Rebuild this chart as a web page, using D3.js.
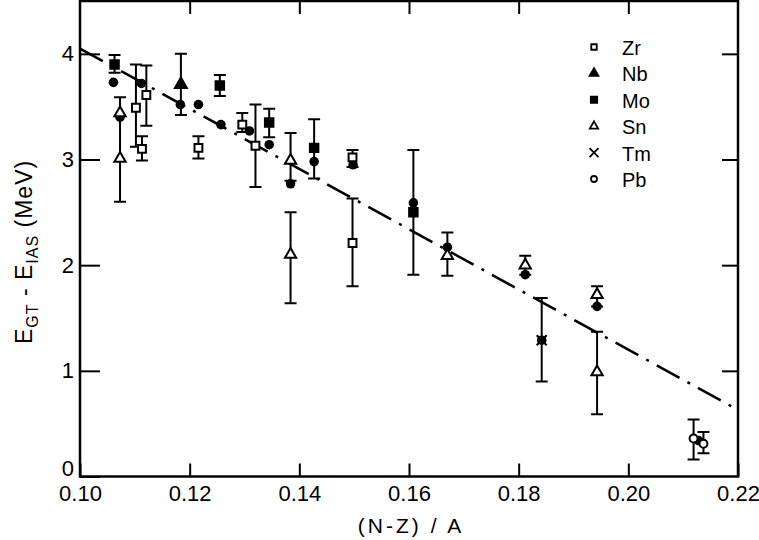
<!DOCTYPE html>
<html>
<head>
<meta charset="utf-8">
<script src="https://cdn.jsdelivr.net/npm/d3@7"></script>
<style>
  body { margin: 0; background: #fff; }
  text { font-family: 'Liberation Sans', Arial, sans-serif; fill: #000; }
</style>
</head>
<body>
<div id="chart"></div>
<script>
// measured points: x = (N-Z)/A, y = E_GT - E_IAS (MeV), lo/hi = error bar ends
const zr = [
  {x: 0.1102, y: 3.49, lo: 3.12, hi: 3.90},
  {x: 0.1113, y: 3.10, lo: 2.99, hi: 3.22},
  {x: 0.1121, y: 3.61, lo: 3.32, hi: 3.89},
  {x: 0.1216, y: 3.11, lo: 3.01, hi: 3.22},
  {x: 0.1296, y: 3.33, lo: 3.26, hi: 3.44},
  {x: 0.1320, y: 3.13, lo: 2.74, hi: 3.52},
  {x: 0.1497, y: 3.02, lo: 2.93, hi: 3.09},
  {x: 0.1497, y: 2.21, lo: 1.80, hi: 2.63}
]
const nb = [
  {x: 0.1184, y: 3.71, lo: 3.42, hi: 4.00}
]
const mo = [
  {x: 0.1063, y: 3.90, lo: 3.82, hi: 3.99},
  {x: 0.1255, y: 3.70, lo: 3.60, hi: 3.80},
  {x: 0.1345, y: 3.35, lo: 3.21, hi: 3.48},
  {x: 0.1427, y: 3.11, lo: 2.82, hi: 3.38},
  {x: 0.1608, y: 2.50, lo: 1.91, hi: 3.09}
]
const sn = [
  {x: 0.1073, y: 3.01, lo: 2.60, hi: 3.59},
  {x: 0.1073, y: 3.44},
  {x: 0.1384, y: 2.99, lo: 2.80, hi: 3.25},
  {x: 0.1384, y: 2.10, lo: 1.64, hi: 2.50},
  {x: 0.1670, y: 2.09, lo: 1.90, hi: 2.31},
  {x: 0.1812, y: 2.00, lo: 1.91, hi: 2.09},
  {x: 0.1943, y: 1.72, lo: 1.61, hi: 1.80},
  {x: 0.1943, y: 0.99, lo: 0.59, hi: 1.37}
]
const tm = [
  {x: 0.1842, y: 1.29, lo: 0.90, hi: 1.69}
]
const pb = [
  {x: 0.2119, y: 0.36, lo: 0.16, hi: 0.54},
  {x: 0.2137, y: 0.31, lo: 0.22, hi: 0.42}
]
// filled dots (no legend entry)
const calc = [
  {x: 0.1061, y: 3.73}, {x: 0.1073, y: 3.40}, {x: 0.1112, y: 3.72},
  {x: 0.1183, y: 3.52}, {x: 0.1216, y: 3.52}, {x: 0.1257, y: 3.33},
  {x: 0.1309, y: 3.27}, {x: 0.1345, y: 3.14}, {x: 0.1384, y: 2.77},
  {x: 0.1427, y: 2.98}, {x: 0.1498, y: 2.95}, {x: 0.1608, y: 2.59},
  {x: 0.1670, y: 2.17}, {x: 0.1812, y: 1.91}, {x: 0.1842, y: 1.29},
  {x: 0.1943, y: 1.61}, {x: 0.2128, y: 0.34}
]
// dash-dot fit line end points
const fitLine = [{x: 0.10, y: 4.05}, {x: 0.22, y: 0.63}]

const xTicks = [0.10, 0.12, 0.14, 0.16, 0.18, 0.20, 0.22]
const yTicks = [0, 1, 2, 3, 4]
const legendItems = ['Zr', 'Nb', 'Mo', 'Sn', 'Tm', 'Pb']

const width = 759,
  height = 540

const xScale = d3.scaleLinear()
  .domain([0.10, 0.22])
  .range([80, 738])
const yScale = d3.scaleLinear()
  .domain([0, 4.5])
  .range([476.5, 1])

const svg = d3.select('#chart').append('svg')
  .attr('width', width)
  .attr('height', height)

// frame
svg.append('rect')
  .attr('x', xScale(0.10))
  .attr('y', yScale(4.5))
  .attr('width', xScale(0.22) - xScale(0.10))
  .attr('height', yScale(0) - yScale(4.5))
  .attr('fill', 'none')
  .attr('stroke', '#000')
  .attr('stroke-width', 2.5)

const styleAxis = g => {
  g.select('.domain').remove()
  g.selectAll('.tick line').attr('stroke', '#000').attr('stroke-width', 2)
  g.selectAll('.tick text').style('font-size', '22px').attr('fill', '#000')
}

svg.append('g')
  .attr('transform', `translate(0, ${yScale(0)})`)
  .call(d3.axisBottom(xScale).tickValues(xTicks).tickFormat(d3.format('.2f'))
    .tickSizeInner(-13).tickSizeOuter(0).tickPadding(9))
  .call(styleAxis)
svg.append('g')
  .attr('transform', `translate(0, ${yScale(4.5)})`)
  .call(d3.axisTop(xScale).tickValues(xTicks.slice(1, -1)).tickFormat('')
    .tickSizeInner(-13).tickSizeOuter(0))
  .call(styleAxis)
svg.append('g')
  .attr('transform', `translate(${xScale(0.10)}, 0)`)
  .call(d3.axisLeft(yScale).tickValues(yTicks).tickFormat(d3.format('d'))
    .tickSizeInner(-20).tickSizeOuter(0).tickPadding(6))
  .call(styleAxis)
  .call(g => g.selectAll('.tick text').filter(d => d === 0).attr('y', -8))
svg.append('g')
  .attr('transform', `translate(${xScale(0.22)}, 0)`)
  .call(d3.axisRight(yScale).tickValues(yTicks.slice(1)).tickFormat('')
    .tickSizeInner(-16).tickSizeOuter(0))
  .call(styleAxis)

// axis titles
svg.append('text')
  .attr('x', 411)
  .attr('y', 533)
  .attr('text-anchor', 'middle')
  .style('font-size', '21px')
  .style('letter-spacing', '3px')
  .text('(N-Z) / A')

const yTitle = svg.append('text')
  .attr('transform', 'translate(32, 344) rotate(-90)')
  .style('font-size', '23px')
  .style('letter-spacing', '1px')
yTitle.append('tspan').text('E')
yTitle.append('tspan').attr('dy', 6).style('font-size', '16px').text('GT')
yTitle.append('tspan').attr('dy', -6).text(' -  E')
yTitle.append('tspan').attr('dy', 6).style('font-size', '16px').text('IAS')
yTitle.append('tspan').attr('dy', -6).text(' (MeV)')

// fit line
svg.append('path')
  .datum(fitLine)
  .attr('d', d3.line().x(d => xScale(d.x)).y(d => yScale(d.y)))
  .attr('fill', 'none')
  .attr('stroke', '#000')
  .attr('stroke-width', 2.5)
  .attr('stroke-dasharray', '26,9,3,9')

// error bars
const withErr = [].concat(zr, nb, mo, sn, tm, pb).filter(d => d.lo !== undefined)
const capW = 6
const errG = svg.append('g')
  .attr('stroke', '#000')
  .attr('stroke-width', 2)
errG.selectAll('.err')
  .data(withErr)
  .enter().append('path')
  .attr('fill', 'none')
  .attr('d', d => {
    const x = xScale(d.x), y1 = yScale(d.lo), y2 = yScale(d.hi)
    return `M${x},${y1}V${y2}M${x - capW},${y1}H${x + capW}M${x - capW},${y2}H${x + capW}`
  })

const sym = (type, size) => d3.symbol().type(type).size(size)()
const crossPath = s => `M${-s},${-s}L${s},${s}M${-s},${s}L${s},${-s}`

const markers = [
  {data: calc, d: sym(d3.symbolCircle, 72), fill: '#000', stroke: 'none'},
  {data: zr, d: sym(d3.symbolSquare, 62), fill: '#fff', stroke: '#000'},
  {data: nb, d: sym(d3.symbolTriangle, 62), fill: '#000', stroke: '#000'},
  {data: mo, d: sym(d3.symbolSquare, 72), fill: '#000', stroke: '#000'},
  {data: sn, d: sym(d3.symbolTriangle, 55), fill: '#fff', stroke: '#000'},
  {data: tm, d: crossPath(5), fill: 'none', stroke: '#000'},
  {data: pb, d: sym(d3.symbolCircle, 50), fill: '#fff', stroke: '#000'}
]
markers.forEach(m => {
  svg.append('g')
    .selectAll('path')
    .data(m.data)
    .enter().append('path')
    .attr('transform', d => `translate(${xScale(d.x)}, ${yScale(d.y)})`)
    .attr('d', m.d)
    .attr('fill', m.fill)
    .attr('stroke', m.stroke)
    .attr('stroke-width', 2)
})

// legend
const legendShapes = [
  {d: sym(d3.symbolSquare, 30), fill: '#fff'},
  {d: sym(d3.symbolTriangle, 34), fill: '#000'},
  {d: sym(d3.symbolSquare, 40), fill: '#000'},
  {d: sym(d3.symbolTriangle, 30), fill: '#fff'},
  {d: crossPath(4.5), fill: 'none'},
  {d: sym(d3.symbolCircle, 28), fill: '#fff'}
]
const legend = svg.append('g')
  .selectAll('.legend')
  .data(legendItems)
  .enter().append('g')
  .attr('transform', (d, i) => `translate(594, ${47 + i * 26.4})`)
legend.append('path')
  .attr('d', (d, i) => legendShapes[i].d)
  .attr('fill', (d, i) => legendShapes[i].fill)
  .attr('stroke', '#000')
  .attr('stroke-width', 1.8)
legend.append('text')
  .attr('x', 28)
  .attr('y', 8)
  .style('font-size', '20px')
  .text(d => d)
</script>
</body>
</html>
